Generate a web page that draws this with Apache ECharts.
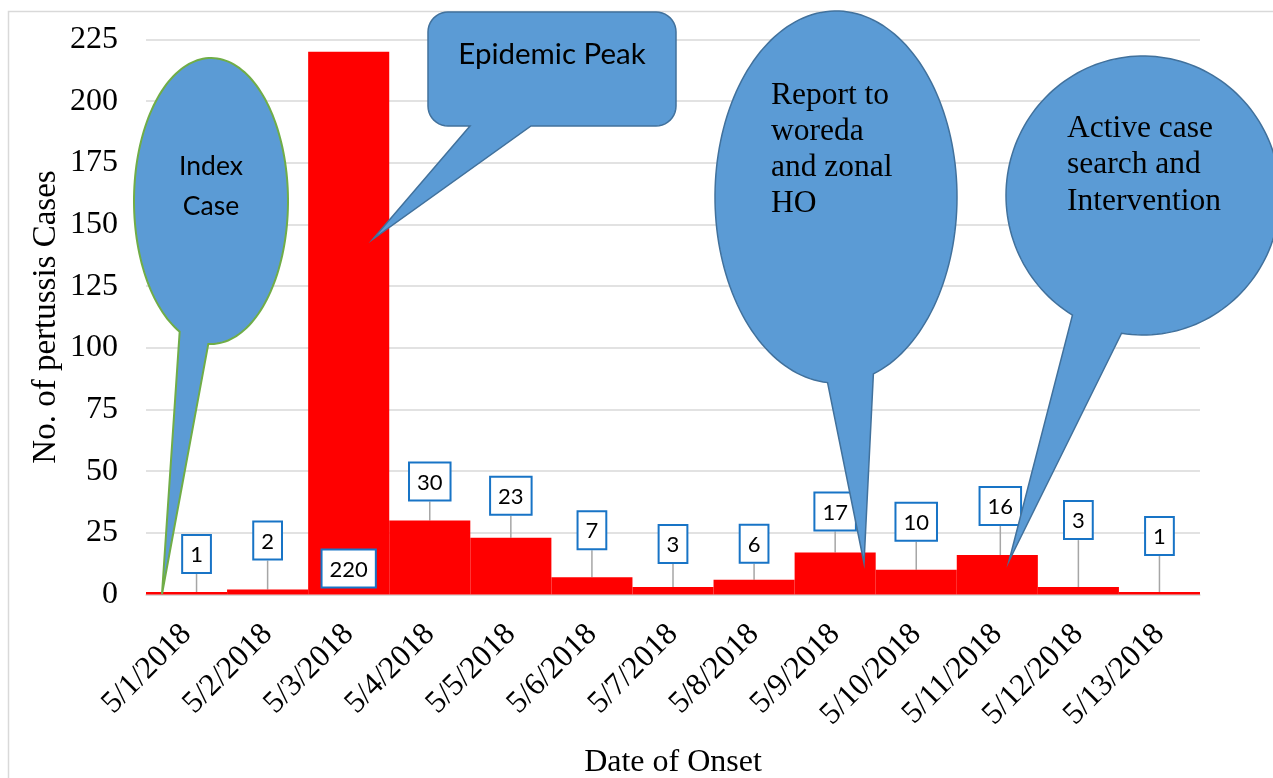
<!DOCTYPE html>
<html>
<head>
<meta charset="utf-8">
<script src="https://cdn.jsdelivr.net/npm/echarts@6/dist/echarts.min.js"></script>
<style>
html,body{margin:0;padding:0;background:#fff;}
#chart{width:1273px;height:778px;}
</style>
</head>
<body>
<div id="chart"></div>
<script>
// ---- data ----
const categories = ['5/1/2018','5/2/2018','5/3/2018','5/4/2018','5/5/2018','5/6/2018','5/7/2018',
  '5/8/2018','5/9/2018','5/10/2018','5/11/2018','5/12/2018','5/13/2018'];
const cases = [1, 2, 220, 30, 23, 7, 3, 6, 17, 10, 16, 3, 1];
const yMin = 0, yMax = 225, yStep = 25;
const xTitle = 'Date of Onset';
const yTitle = 'No. of pertussis Cases';
const notes = {
  index: 'Index\nCase',
  peak: 'Epidemic Peak',
  report: 'Report to\nworeda\nand zonal\nHO',
  active: 'Active case\nsearch and\nIntervention'
};

// ---- label placement (style, not data) ----
const labelGap = [20, 31, 0, 21, 24, 29, 25, 18, 23, 30, 31, 49, 38];
const labelShift = [10, 0, 0, 0, 0, 0, 0, 0, 0, 0, 3, 0, 0];
const insideIdx = 2;

const serif = '"Liberation Serif","Times New Roman",serif';
const sans = 'Lato,"Noto Sans",sans-serif';
const bubbleFill = '#5b9bd5';
const bubbleStroke = '#41719c';

function ellipseBubble(cx, cy, rx, ry, aL, aR, tip) {
  const pts = [tip];
  const a0 = aL * Math.PI / 180, a1 = (aR + 360) * Math.PI / 180;
  const n = 160;
  for (let i = 0; i <= n; i++) {
    const a = a0 + (a1 - a0) * i / n;
    pts.push([cx + rx * Math.cos(a), cy + ry * Math.sin(a)]);
  }
  return pts;
}
function arc(pts, cx, cy, r, d0, d1) {
  const n = 10;
  for (let i = 0; i <= n; i++) {
    const a = (d0 + (d1 - d0) * i / n) * Math.PI / 180;
    pts.push([cx + r * Math.cos(a), cy + r * Math.sin(a)]);
  }
}
function rectBubble(x0, y0, x1, y1, r, b1, b2, tip) {
  const pts = [[b2, y1]];
  arc(pts, x1 - r, y1 - r, r, 90, 0);
  arc(pts, x1 - r, y0 + r, r, 0, -90);
  arc(pts, x0 + r, y0 + r, r, -90, -180);
  arc(pts, x0 + r, y1 - r, r, 180, 90);
  pts.push([b1, y1]);
  pts.push(tip);
  return pts;
}

const seriesData = cases.map((v, i) => {
  if (i === insideIdx) {
    return { value: v, label: { position: 'insideBottom', distance: 8 }, labelLine: { show: false } };
  }
  return { value: v };
});

const chart = echarts.init(document.getElementById('chart'), null, { renderer: 'canvas' });
chart.setOption({
  animation: false,
  backgroundColor: '#fff',
  grid: { left: 146, right: 73, top: 39.5, bottom: 183.5, containLabel: false, outerBoundsMode: 'none' },
  xAxis: {
    type: 'category',
    data: categories,
    name: xTitle,
    nameLocation: 'middle',
    nameGap: 152,
    nameMoveOverlap: false,
    nameTextStyle: { fontFamily: serif, fontSize: 32, color: '#000' },
    axisLine: { show: true, lineStyle: { color: '#d9d9d9', width: 1.5 } },
    axisTick: { show: false },
    axisLabel: { interval: 0, rotate: 45, margin: 35, fontFamily: serif, fontSize: 31.5, color: '#000' },
    splitLine: { show: false }
  },
  yAxis: {
    type: 'value',
    min: yMin, max: yMax, interval: yStep,
    name: yTitle,
    nameLocation: 'middle',
    nameGap: 83,
    nameMoveOverlap: false,
    nameTextStyle: { fontFamily: serif, fontSize: 33, color: '#000' },
    axisLine: { show: false },
    axisTick: { show: false },
    axisLabel: { margin: 28, fontFamily: serif, fontSize: 32, color: '#000' },
    splitLine: { show: true, lineStyle: { color: '#d9d9d9', width: 1.5 } }
  },
  series: [{
    type: 'bar',
    data: seriesData,
    barCategoryGap: 0,
    itemStyle: { color: '#ff0000' },
    label: {
      show: true,
      position: 'top',
      distance: 0,
      fontFamily: sans,
      fontSize: 22,
      color: '#000',
      backgroundColor: '#fff',
      borderColor: '#1874c6',
      borderWidth: 2,
      padding: [7, 7, 5, 7],
      lineHeight: 24
    },
    labelLine: { show: true, lineStyle: { color: '#a6a6a6', width: 1.5 } },
    labelLayout: function (p) {
      if (p.dataIndex === insideIdx) return {};
      return { dx: labelShift[p.dataIndex], dy: -labelGap[p.dataIndex] };
    },
    z: 2
  }],
  graphic: [
    { type: 'rect', shape: { x: 8.5, y: 11.5, width: 1300, height: 800 },
      style: { fill: 'none', stroke: '#d9d9d9', lineWidth: 1.5 }, z: -1, silent: true },
    // Index Case
    { type: 'polygon', shape: { points: ellipseBubble(211, 201, 77, 143, 114, 92, [162, 594]) },
      style: { fill: bubbleFill, stroke: '#70ad47', lineWidth: 2 }, z: 100 },
    { type: 'text', x: 211, y: 186, z: 101,
      style: { text: notes.index, fontFamily: sans, fontSize: 26.5, lineHeight: 40, fill: '#000', align: 'center', verticalAlign: 'middle' } },
    // Epidemic Peak
    { type: 'polygon', shape: { points: rectBubble(428, 12, 676, 126, 20, 470, 531, [373, 239]) },
      style: { fill: bubbleFill, stroke: bubbleStroke, lineWidth: 1.5 }, z: 100 },
    { type: 'text', x: 552, y: 54, z: 101,
      style: { text: notes.peak, fontFamily: sans, fontSize: 29.5, fill: '#000', align: 'center', verticalAlign: 'middle' } },
    // Report
    { type: 'polygon', shape: { points: ellipseBubble(836, 197, 121, 186, 94, 72, [864, 563]) },
      style: { fill: bubbleFill, stroke: bubbleStroke, lineWidth: 1.5 }, z: 100 },
    { type: 'text', x: 771, y: 150, z: 101,
      style: { text: notes.report, fontFamily: serif, fontSize: 31.5, lineHeight: 36, fill: '#000', align: 'left', verticalAlign: 'middle' } },
    // Active case search
    { type: 'polygon', shape: { points: ellipseBubble(1143, 195.5, 137, 139.5, 121, 99, [1009, 561]) },
      style: { fill: bubbleFill, stroke: bubbleStroke, lineWidth: 1.5 }, z: 100 },
    { type: 'text', x: 1067, y: 165, z: 101,
      style: { text: notes.active, fontFamily: serif, fontSize: 31.5, lineHeight: 36.5, fill: '#000', align: 'left', verticalAlign: 'middle' } }
  ]
});
</script>
</body>
</html>
